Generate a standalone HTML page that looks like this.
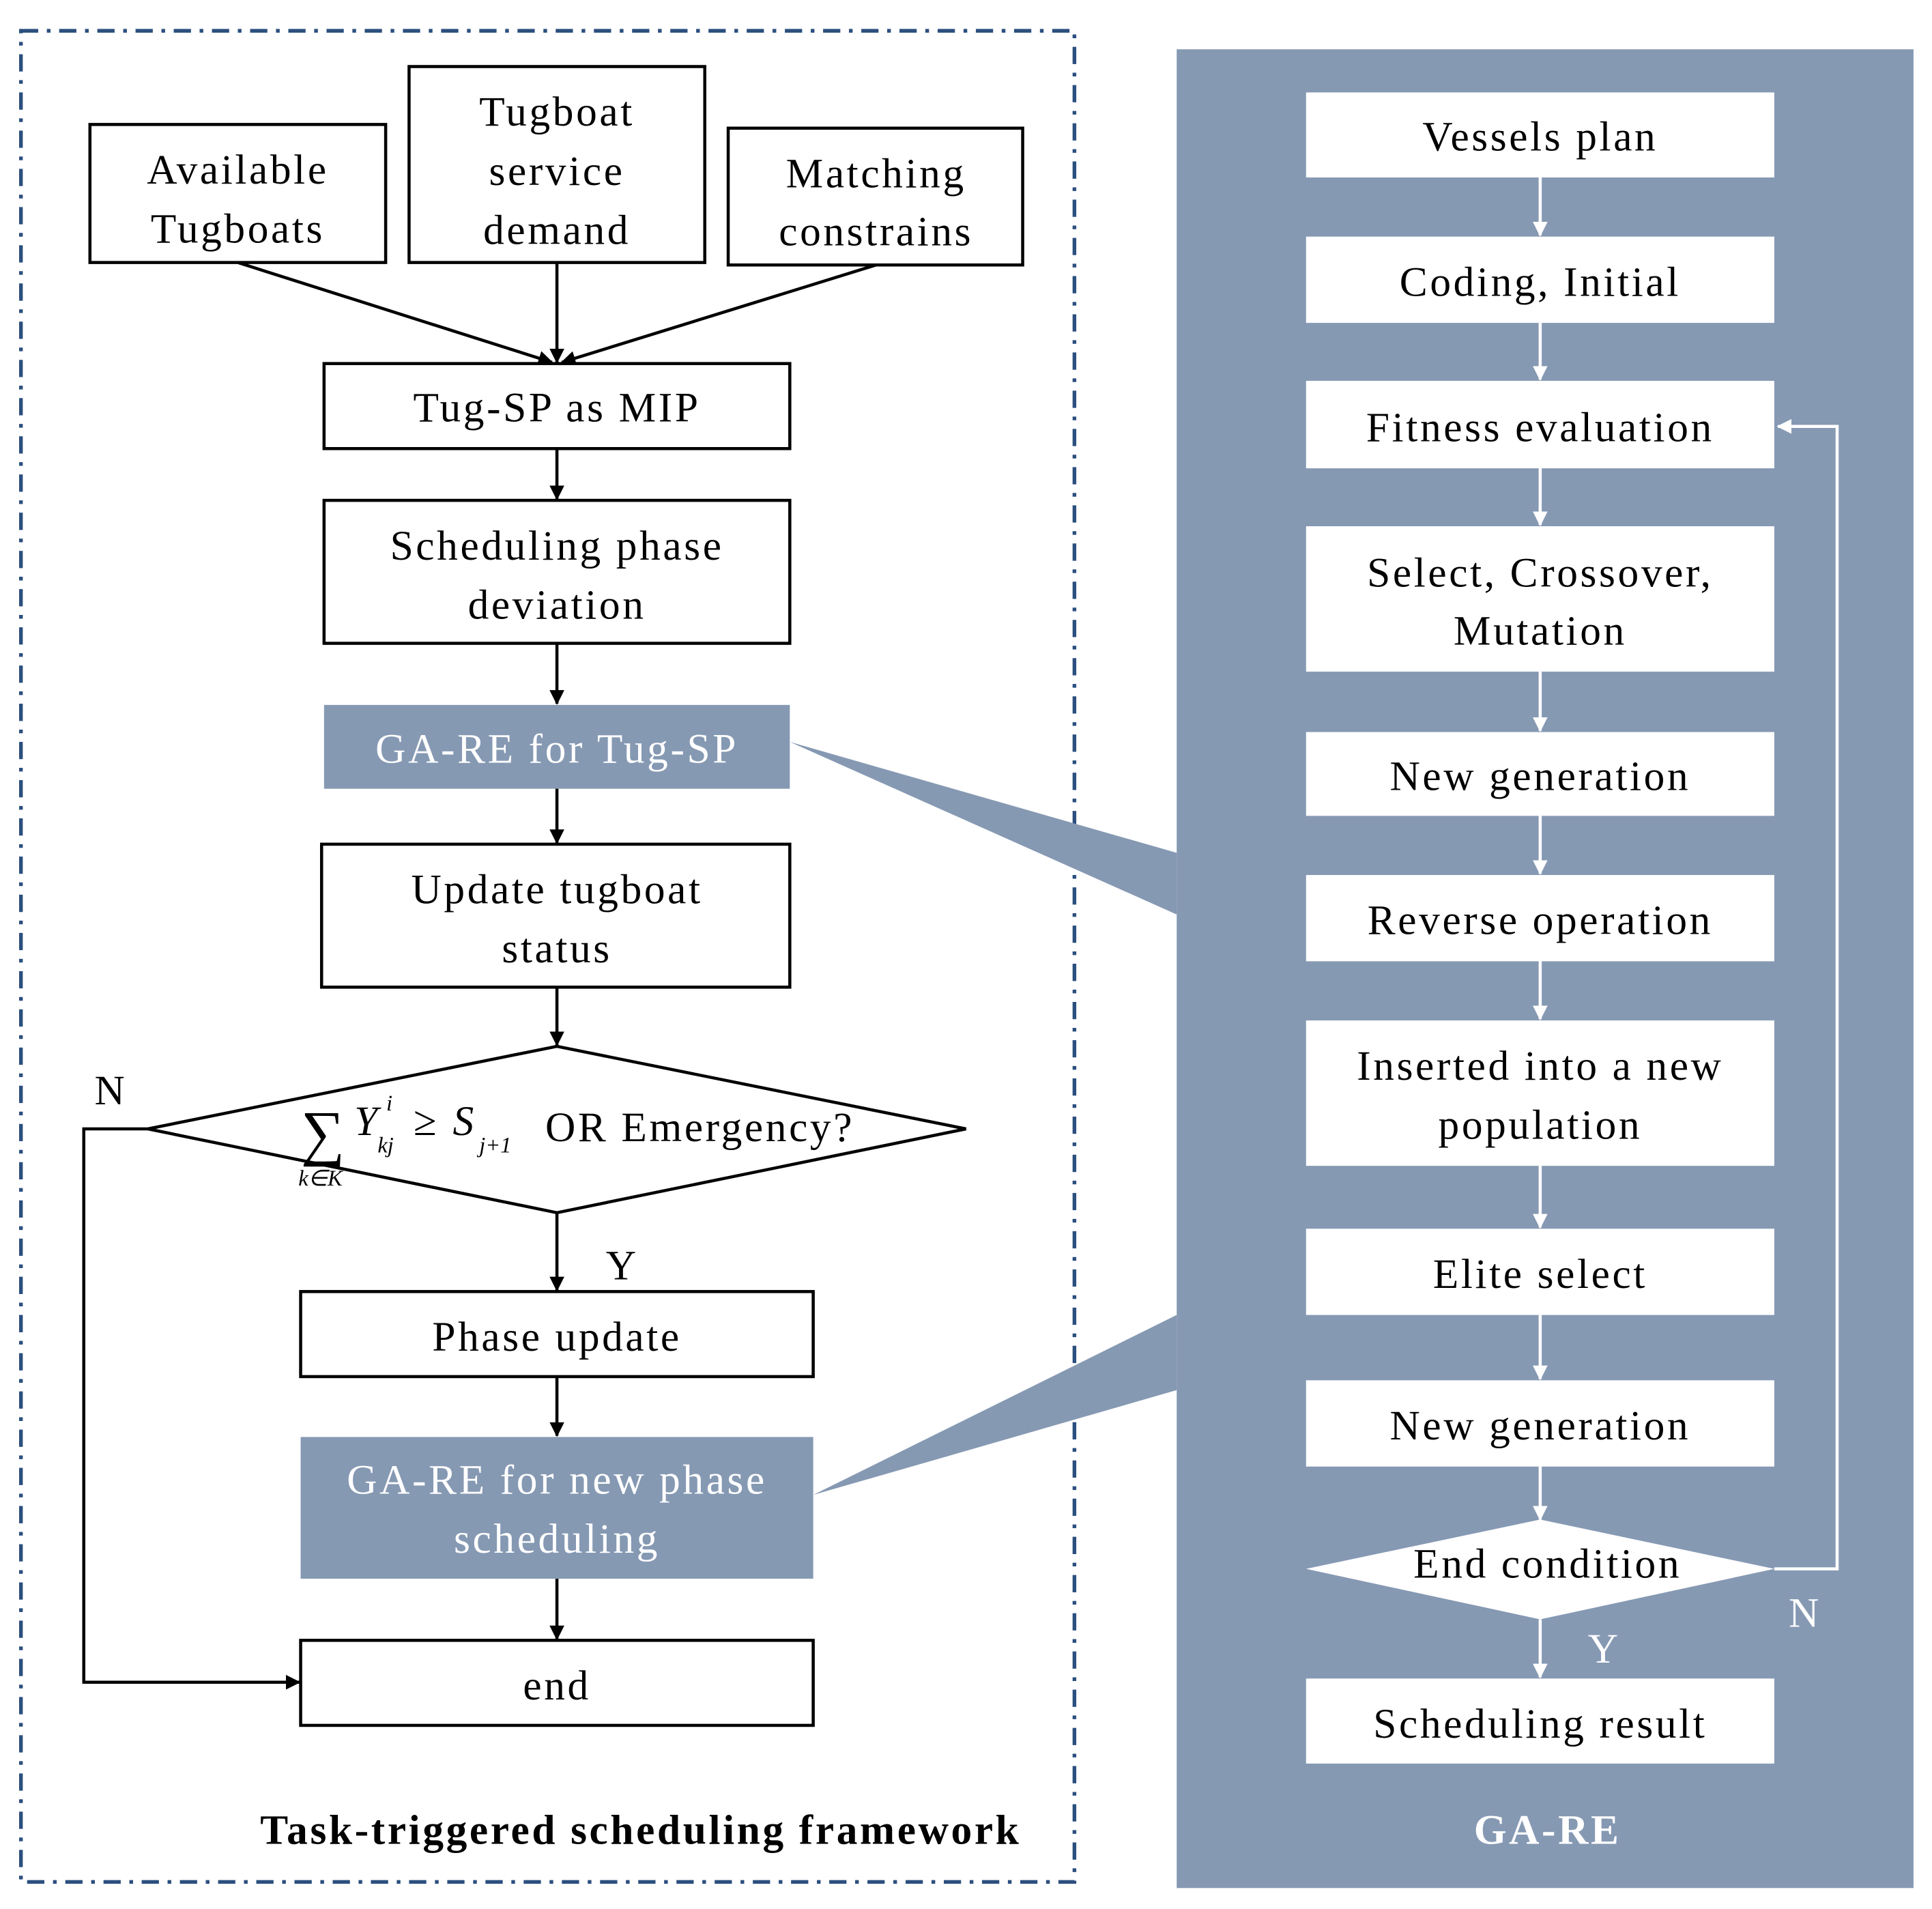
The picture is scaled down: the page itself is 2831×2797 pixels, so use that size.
<!DOCTYPE html>
<html><head><meta charset="utf-8"><style>
html,body{margin:0;padding:0;background:#fff}
svg{display:block}
text{font-family:"Liberation Serif",serif;font-size:34px;fill:#000;text-anchor:middle;letter-spacing:2px}
.s{letter-spacing:0}
.w{fill:#fff}
.bx{fill:#fff;stroke:#000;stroke-width:2.5}
.wb{fill:#fff}
.ln{stroke:#000;stroke-width:2.5;fill:none}
.wl{stroke:#fff;stroke-width:2.5;fill:none}
</style></head><body>
<svg width="2831" height="2797" viewBox="0 0 1568 1549" preserveAspectRatio="none" xmlns="http://www.w3.org/2000/svg">
<defs>
<marker id="a" markerWidth="12" markerHeight="12" refX="11" refY="6" orient="auto" markerUnits="userSpaceOnUse"><path d="M0,0 L12,6 L0,12 z" fill="#000"/></marker>
<marker id="aw" markerWidth="12" markerHeight="12" refX="11" refY="6" orient="auto" markerUnits="userSpaceOnUse"><path d="M0,0 L12,6 L0,12 z" fill="#fff"/></marker>
</defs>
<rect x="17" y="25" width="855" height="1502" fill="none" stroke="#2b4f7e" stroke-width="3" stroke-dasharray="14,7,3,7"/>
<rect x="955" y="40" width="598" height="1492" fill="#8699b3"/>
<polygon points="641,602 955,692 955,742" fill="#8699b3"/>
<polygon points="660,1213 955,1067 955,1128" fill="#8699b3"/>

<rect class="bx" x="73" y="101" width="240" height="112"/>
<text x="193" y="149">Available</text><text x="193" y="197">Tugboats</text>
<rect class="bx" x="332" y="54" width="240" height="159"/>
<text x="452" y="102">Tugboat</text><text x="452" y="150">service</text><text x="452" y="198">demand</text>
<rect class="bx" x="591" y="104" width="239" height="111"/>
<text x="711" y="152">Matching</text><text x="711" y="199">constrains</text>

<line class="ln" x1="193" y1="213" x2="448" y2="294" marker-end="url(#a)"/>
<line class="ln" x1="452" y1="213" x2="452" y2="294" marker-end="url(#a)"/>
<line class="ln" x1="711" y1="215" x2="456" y2="294" marker-end="url(#a)"/>

<rect class="bx" x="263" y="295" width="378" height="69"/>
<text x="452" y="342">Tug-SP as MIP</text>
<line class="ln" x1="452" y1="364" x2="452" y2="405" marker-end="url(#a)"/>
<rect class="bx" x="263" y="406" width="378" height="116"/>
<text x="452" y="454">Scheduling  phase</text><text x="452" y="502">deviation</text>
<line class="ln" x1="452" y1="522" x2="452" y2="571" marker-end="url(#a)"/>
<rect x="263" y="572" width="378" height="68" fill="#8699b3"/>
<text class="w" x="452" y="619">GA-RE  for Tug-SP</text>
<line class="ln" x1="452" y1="640" x2="452" y2="684" marker-end="url(#a)"/>
<rect class="bx" x="261" y="685" width="380" height="116"/>
<text x="452" y="733">Update tugboat</text><text x="452" y="781">status</text>
<line class="ln" x1="452" y1="801" x2="452" y2="848" marker-end="url(#a)"/>
<polygon class="bx" points="120,916 452,849 784,916 452,984"/>
<text class="s" x="262" y="936" style="font-size:50px">∑</text>
<text class="s" x="297" y="921" style="font-style:italic">Y</text>
<text class="s" x="316" y="901" style="font-style:italic;font-size:18px">i</text>
<text class="s" x="313" y="935" style="font-style:italic;font-size:18px">kj</text>
<text class="s" x="345" y="921">≥</text>
<text class="s" x="376" y="921" style="font-style:italic">S</text>
<text class="s" x="402" y="935" style="font-style:italic;font-size:18px">j+1</text>
<text class="s" x="260" y="962" style="font-style:italic;font-size:18px">k∈K</text>
<text x="568" y="926">OR Emergency?</text>
<text x="90" y="896">N</text>
<text x="505" y="1038">Y</text>
<line class="ln" x1="452" y1="984" x2="452" y2="1047" marker-end="url(#a)"/>
<rect class="bx" x="244" y="1048" width="416" height="69"/>
<text x="452" y="1096">Phase update</text>
<line class="ln" x1="452" y1="1117" x2="452" y2="1165" marker-end="url(#a)"/>
<rect x="244" y="1166" width="416" height="115" fill="#8699b3"/>
<text class="w" x="452" y="1212">GA-RE  for new phase</text><text class="w" x="452" y="1260">scheduling</text>
<line class="ln" x1="452" y1="1281" x2="452" y2="1330" marker-end="url(#a)"/>
<rect class="bx" x="244" y="1331" width="416" height="69"/>
<text x="452" y="1379">end</text>
<polyline class="ln" points="120,916 68,916 68,1365 243,1365" marker-end="url(#a)"/>
<text x="520" y="1496" style="font-weight:bold">Task-triggered  scheduling framework</text>

<g>
<rect class="wb" x="1060" y="75" width="380" height="69"/><text x="1250" y="122">Vessels plan</text>
<rect class="wb" x="1060" y="192" width="380" height="70"/><text x="1250" y="240">Coding,  Initial</text>
<rect class="wb" x="1060" y="309" width="380" height="71"/><text x="1250" y="358">Fitness evaluation</text>
<rect class="wb" x="1060" y="427" width="380" height="118"/><text x="1250" y="476">Select, Crossover,</text><text x="1250" y="523">Mutation</text>
<rect class="wb" x="1060" y="594" width="380" height="68"/><text x="1250" y="641">New generation</text>
<rect class="wb" x="1060" y="710" width="380" height="70"/><text x="1250" y="758">Reverse operation</text>
<rect class="wb" x="1060" y="828" width="380" height="118"/><text x="1250" y="876">Inserted into a new</text><text x="1250" y="924">population</text>
<rect class="wb" x="1060" y="997" width="380" height="70"/><text x="1250" y="1045">Elite select</text>
<rect class="wb" x="1060" y="1120" width="380" height="70"/><text x="1250" y="1168">New generation</text>
<polygon class="wb" points="1060,1273 1250,1233 1440,1273 1250,1314"/><text x="1256" y="1280">End condition</text>
<rect class="wb" x="1060" y="1362" width="380" height="69"/><text x="1250" y="1410">Scheduling  result</text>
<line class="wl" x1="1250" y1="144" x2="1250" y2="191" marker-end="url(#aw)"/>
<line class="wl" x1="1250" y1="262" x2="1250" y2="308" marker-end="url(#aw)"/>
<line class="wl" x1="1250" y1="380" x2="1250" y2="426" marker-end="url(#aw)"/>
<line class="wl" x1="1250" y1="545" x2="1250" y2="593" marker-end="url(#aw)"/>
<line class="wl" x1="1250" y1="662" x2="1250" y2="709" marker-end="url(#aw)"/>
<line class="wl" x1="1250" y1="780" x2="1250" y2="827" marker-end="url(#aw)"/>
<line class="wl" x1="1250" y1="946" x2="1250" y2="996" marker-end="url(#aw)"/>
<line class="wl" x1="1250" y1="1067" x2="1250" y2="1119" marker-end="url(#aw)"/>
<line class="wl" x1="1250" y1="1190" x2="1250" y2="1233" marker-end="url(#aw)"/>
<line class="wl" x1="1250" y1="1314" x2="1250" y2="1361" marker-end="url(#aw)"/>
<polyline class="wl" points="1440,1273 1491,1273 1491,346 1443,346" marker-end="url(#aw)"/>
<text class="w" x="1465" y="1320">N</text>
<text class="w" x="1302" y="1349">Y</text>
<text class="w" x="1256" y="1496" style="font-weight:bold">GA-RE</text>
</g>
</svg>
</body></html>
